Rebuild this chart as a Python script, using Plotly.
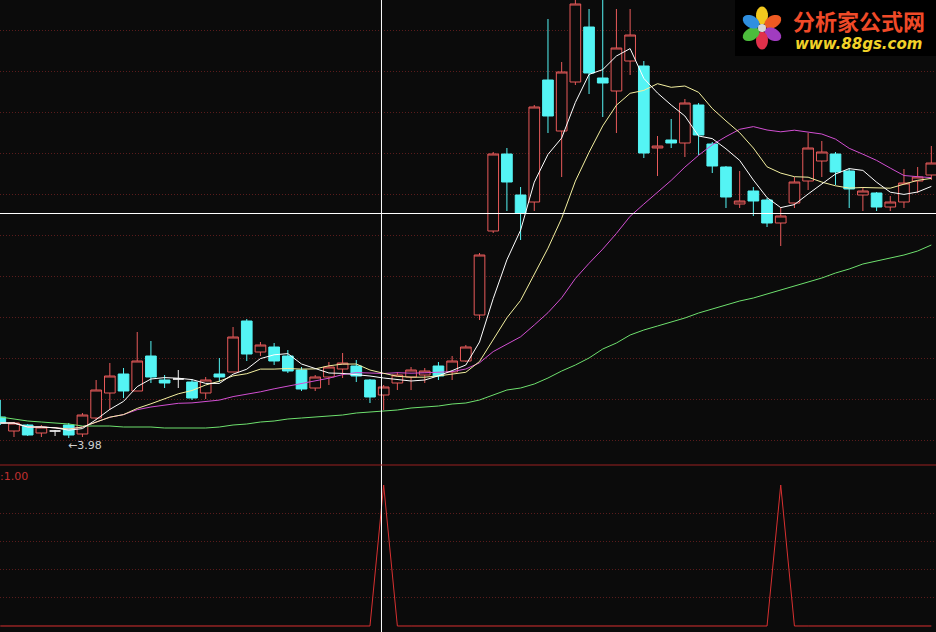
import math
import plotly.graph_objects as go
import pandas as pd

# ---------------- data ----------------
open_ = [4.19, 4.05, 4.11, 4.03, 4.05, 4.11, 4.02, 4.18, 4.43, 4.62,
         4.45, 4.80, 4.56, 4.57, 4.54, 4.43, 4.62, 4.64, 5.15, 4.84,
         4.89, 4.80, 4.66, 4.48, 4.59, 4.67, 4.70, 4.56, 4.41, 4.53,
         4.59, 4.61, 4.70, 4.64, 4.75, 5.21, 6.05, 6.82, 6.41, 6.34,
         7.56, 7.05, 7.54, 8.09, 7.58, 7.45, 7.75, 7.70, 6.88, 6.96,
         6.93, 7.31, 6.92, 6.69, 6.32, 6.45, 6.36, 6.13, 6.33, 6.55,
         6.75, 6.82, 6.65, 6.41, 6.43, 6.29, 6.34, 6.55, 6.61]
high = [4.36, 4.14, 4.12, 4.11, 4.06, 4.13, 4.23, 4.56, 4.73, 4.68,
        5.04, 4.95, 4.61, 4.66, 4.57, 4.59, 4.78, 5.09, 5.17, 4.94,
        4.93, 4.86, 4.69, 4.61, 4.74, 4.83, 4.76, 4.57, 4.51, 4.64,
        4.69, 4.68, 4.74, 4.80, 4.91, 5.83, 6.84, 6.88, 6.49, 7.31,
        8.17, 7.74, 8.36, 8.27, 8.41, 8.27, 8.27, 7.75, 7.00, 7.17,
        7.37, 7.33, 6.94, 6.70, 6.65, 6.49, 6.38, 6.29, 6.59, 7.03,
        6.95, 6.84, 6.68, 6.49, 6.44, 6.40, 6.67, 6.69, 6.90]
low = [4.11, 3.99, 4.00, 3.99, 4.00, 3.98, 3.99, 4.16, 4.26, 4.38,
       4.45, 4.53, 4.48, 4.48, 4.36, 4.37, 4.54, 4.64, 4.75, 4.80,
       4.71, 4.63, 4.45, 4.45, 4.51, 4.58, 4.54, 4.33, 4.26, 4.46,
       4.46, 4.53, 4.56, 4.56, 4.74, 5.16, 6.03, 6.25, 5.96, 6.25,
       7.03, 6.59, 7.51, 7.42, 7.19, 7.03, 7.61, 6.78, 6.60, 6.88,
       6.79, 6.81, 6.63, 6.28, 6.28, 6.20, 6.09, 5.90, 6.28, 6.46,
       6.59, 6.51, 6.28, 6.25, 6.25, 6.25, 6.28, 6.43, 6.56]
close = [4.13, 4.13, 4.01, 4.09, 4.05, 4.01, 4.21, 4.46, 4.60, 4.45,
         4.75, 4.59, 4.53, 4.57, 4.38, 4.56, 4.59, 4.99, 4.82, 4.91,
         4.75, 4.65, 4.47, 4.59, 4.69, 4.73, 4.60, 4.39, 4.49, 4.61,
         4.66, 4.65, 4.60, 4.75, 4.89, 5.81, 6.82, 6.54, 6.23, 7.29,
         7.20, 7.64, 8.32, 7.63, 7.53, 7.88, 8.01, 6.83, 6.90, 6.93,
         7.33, 7.01, 6.70, 6.39, 6.35, 6.35, 6.13, 6.20, 6.54, 6.88,
         6.84, 6.64, 6.47, 6.45, 6.29, 6.34, 6.53, 6.59, 6.73]
ma60 = [4.19, 4.17, 4.15, 4.14, 4.13, 4.12, 4.10, 4.10, 4.10, 4.09,
        4.09, 4.09, 4.08, 4.08, 4.08, 4.08, 4.09, 4.11, 4.12, 4.14,
        4.15, 4.17, 4.18, 4.19, 4.20, 4.21, 4.23, 4.24, 4.25, 4.26,
        4.28, 4.29, 4.30, 4.32, 4.33, 4.36, 4.41, 4.46, 4.48, 4.52,
        4.58, 4.65, 4.71, 4.78, 4.87, 4.93, 5.01, 5.06, 5.10, 5.14,
        5.18, 5.23, 5.27, 5.31, 5.35, 5.38, 5.42, 5.46, 5.50, 5.54,
        5.58, 5.63, 5.67, 5.72, 5.75, 5.78, 5.81, 5.85, 5.91]
signal = [0, 0, 0, 0, 0, 0, 0, 0, 0, 0,
          0, 0, 0, 0, 0, 0, 0, 0, 0, 0,
          0, 0, 0, 0, 0, 0, 0, 0, 1, 0,
          0, 0, 0, 0, 0, 0, 0, 0, 0, 0,
          0, 0, 0, 0, 0, 0, 0, 0, 0, 0,
          0, 0, 0, 0, 0, 0, 0, 1, 0, 0,
          0, 0, 0, 0, 0, 0, 0, 0, 0]
low_label = "←3.98"
low_label_index = 5
signal_label = ":1.00"
cursor_index = 27.84
cursor_price = 6.225

# ---------------- derived ----------------
idx = list(range(len(close)))
s = pd.Series(close)
ma5 = s.rolling(5, min_periods=1).mean().round(3).tolist()
ma10 = s.rolling(10, min_periods=1).mean().round(3).tolist()
ma20 = s.rolling(20, min_periods=1).mean().round(3).tolist()

body_idx = [i for i in idx if open_[i] != close[i]]
doji_idx = [i for i in idx if open_[i] == close[i]]

BG = "#0b0b0b"
UP = "#e85a5a"
DOWN = "#54f4f4"
GRID = "#5a1c1c"
W, H = 936, 632
SPLIT = 465  # pixel row of the panel separator

fig = go.Figure()

fig.add_trace(go.Candlestick(
    x=body_idx,
    open=[open_[i] for i in body_idx], high=[high[i] for i in body_idx],
    low=[low[i] for i in body_idx], close=[close[i] for i in body_idx],
    increasing=dict(line=dict(color=UP, width=1), fillcolor=BG),
    decreasing=dict(line=dict(color=DOWN, width=1), fillcolor=DOWN),
    whiskerwidth=0, hoverinfo="skip", showlegend=False,
    xaxis="x", yaxis="y"))
fig.add_trace(go.Candlestick(
    x=doji_idx,
    open=[open_[i] for i in doji_idx], high=[high[i] for i in doji_idx],
    low=[low[i] for i in doji_idx], close=[close[i] for i in doji_idx],
    increasing=dict(line=dict(color="#f0f0f0", width=1), fillcolor="#f0f0f0"),
    decreasing=dict(line=dict(color="#f0f0f0", width=1), fillcolor="#f0f0f0"),
    whiskerwidth=0, hoverinfo="skip", showlegend=False,
    xaxis="x", yaxis="y"))

for series, color in [(ma60, "#6ee06e"), (ma20, "#d24fd2"),
                      (ma10, "#f4f0a0"), (ma5, "#ffffff")]:
    fig.add_trace(go.Scatter(x=idx, y=series, mode="lines",
                             line=dict(color=color, width=1),
                             hoverinfo="skip", showlegend=False,
                             xaxis="x", yaxis="y"))

fig.add_trace(go.Scatter(x=idx, y=signal, mode="lines",
                         line=dict(color="#d83030", width=1),
                         hoverinfo="skip", showlegend=False,
                         xaxis="x", yaxis="y2"))

split_frac = 1 - SPLIT / H


def px(x):
    return x / W


def py(y):
    return 1 - y / H


shapes = [
    # crosshair
    dict(type="line", xref="x", yref="paper", x0=cursor_index, x1=cursor_index,
         y0=0, y1=1, line=dict(color="#ffffff", width=1), layer="above"),
    dict(type="line", xref="paper", yref="y", x0=0, x1=1,
         y0=cursor_price, y1=cursor_price, line=dict(color="#ffffff", width=1),
         layer="above"),
    # panel separator
    dict(type="line", xref="paper", yref="paper", x0=0, x1=1,
         y0=split_frac, y1=split_frac, line=dict(color="#9a2020", width=1)),
    # logo background
    dict(type="rect", xref="paper", yref="paper", x0=px(735), x1=1,
         y0=py(56), y1=1, fillcolor="#000000", line=dict(width=0),
         layer="above"),
]


def petal_path(cx, cy, ang, dist=12.5, a=9.0, b=6.0, n=24):
    # rotated ellipse outline (decorative logo), in paper coordinates
    ex = cx + dist * math.cos(ang)
    ey = cy + dist * math.sin(ang)
    pts = []
    for k in range(n):
        t = 2 * math.pi * k / n
        u, v = a * math.cos(t), b * math.sin(t)
        X = ex + u * math.cos(ang) - v * math.sin(ang)
        Y = ey + u * math.sin(ang) + v * math.cos(ang)
        pts.append(f"{px(X):.5f},{py(Y):.5f}")
    return "M" + " L".join(pts) + " Z"


flower_center = (762, 28)
petal_colors = ["#f2c81e", "#ee5a22", "#a13cc0", "#e0304a", "#4cbc3c", "#2f8fe0"]
for k, col in enumerate(petal_colors):
    ang = -math.pi / 2 + k * math.pi / 3
    shapes.append(dict(type="path", xref="paper", yref="paper",
                       path=petal_path(flower_center[0], flower_center[1], ang),
                       fillcolor=col, line=dict(width=0), layer="above"))
shapes.append(dict(type="circle", xref="paper", yref="paper",
                   x0=px(758), x1=px(766), y0=py(32), y1=py(24),
                   fillcolor="#d8d8d8", line=dict(width=0), layer="above"))

annotations = [
    dict(x=low_label_index, y=min(low), xref="x", yref="y", text=low_label,
         showarrow=False, xanchor="left", yanchor="top", xshift=-3, yshift=1,
         font=dict(family="DejaVu Sans", size=11, color="#d0d0d0")),
    dict(x=0, y=py(468), xref="paper", yref="paper", text=signal_label,
         showarrow=False, xanchor="left", yanchor="top", xshift=-2,
         font=dict(family="DejaVu Sans", size=11, color="#c03030")),
    dict(x=px(791), y=py(20), xref="paper", yref="paper", text="<b>分析家公式网</b>",
         showarrow=False, xanchor="left", yanchor="middle",
         font=dict(family="Noto Sans CJK SC", size=22, color="#f04a28")),
    dict(x=px(793), y=py(44), xref="paper", yref="paper", text="<b><i>www.88gs.com</i></b>",
         showarrow=False, xanchor="left", yanchor="middle",
         font=dict(family="DejaVu Sans", size=15, color="#f2d228")),
]

fig.update_layout(
    width=W, height=H, autosize=False,
    margin=dict(l=0, r=0, t=0, b=0, pad=0),
    paper_bgcolor=BG, plot_bgcolor=BG,
    boxgap=0.22, boxgroupgap=0,
    showlegend=False,
    xaxis=dict(range=[-0.022, 68.34], domain=[0, 1], anchor="y",
               showgrid=False, zeroline=False, showticklabels=False,
               showline=False, ticks="", rangeslider=dict(visible=False),
               fixedrange=True),
    yaxis=dict(range=[3.71, 8.36], domain=[split_frac, 1], anchor="x",
               tick0=3.96, dtick=0.41, showgrid=True, gridcolor=GRID,
               griddash="1px,2px", gridwidth=1, zeroline=False,
               showticklabels=False, ticks="", showline=False, fixedrange=True),
    yaxis2=dict(range=[-0.0426, 1.142], domain=[0, split_frac], anchor="x",
                tickvals=[0.2, 0.4, 0.6, 0.8], showgrid=True, gridcolor=GRID,
                griddash="1px,2px", gridwidth=1, zeroline=False,
                showticklabels=False, ticks="", showline=False, fixedrange=True),
    shapes=shapes,
    annotations=annotations,
)

fig.write_html("out.html", config={"displayModeBar": False, "staticPlot": True},
               post_script="document.body.style.margin='0';document.body.style.overflow='hidden';")
